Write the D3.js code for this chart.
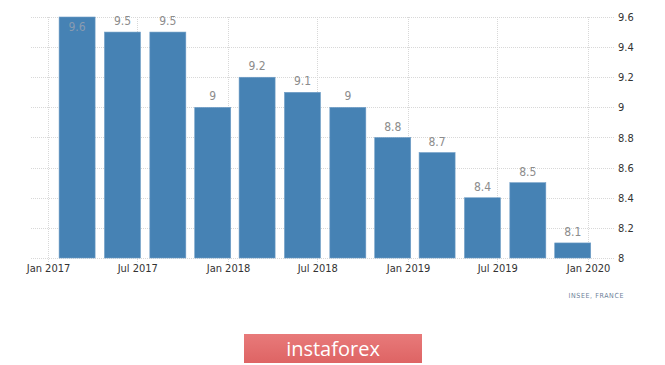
<!DOCTYPE html>
<html><head><meta charset="utf-8">
<script src="https://cdn.jsdelivr.net/npm/d3@7"></script>
<style>body{margin:0;background:#fff}svg{display:block}</style>
</head><body>
<svg id="c" width="665" height="365"></svg>
<script>
const categories = ["2017-03-01","2017-06-01","2017-09-01","2017-12-01","2018-03-01","2018-06-01","2018-09-01","2018-12-01","2019-03-01","2019-06-01","2019-09-01","2019-12-01"];
const values = [9.6, 9.5, 9.5, 9.0, 9.2, 9.1, 9.0, 8.8, 8.7, 8.4, 8.5, 8.1];
const xTickLabels = ["Jan 2017","Jul 2017","Jan 2018","Jul 2018","Jan 2019","Jul 2019","Jan 2020"];
const xTickDates = ["2017-01-01","2017-07-01","2018-01-01","2018-07-01","2019-01-01","2019-07-01","2020-01-01"];
const yTicks = [8, 8.2, 8.4, 8.6, 8.8, 9, 9.2, 9.4, 9.6];
const source = "INSEE, FRANCE";
const brand = "instaforex";

(function () {
const svg = d3.select("#c");
const parse = d3.utcParse("%Y-%m-%d");
const pL = 31, pR = 615, pT = 17, pB = 258;
const x = d3.scaleUtc().domain([parse("2017-01-01"), parse("2020-01-01")]).range([48, 588]);
const y = d3.scaleLinear().domain([8, 9.6]).range([pB, pT]);
const font = "Tahoma, 'DejaVu Sans Condensed', 'Liberation Sans', sans-serif";

// horizontal grid
svg.append("g").selectAll("line").data(yTicks).join("line")
  .attr("x1", pL).attr("x2", pR)
  .attr("y1", d => Math.round(y(d)) + 0.5).attr("y2", d => Math.round(y(d)) + 0.5)
  .attr("stroke", "#d8d8d8").attr("stroke-width", 1).attr("stroke-dasharray", "1,1");
// vertical grid
svg.append("g").selectAll("line").data(xTickDates).join("line")
  .attr("x1", d => Math.round(x(parse(d))) + 0.5).attr("x2", d => Math.round(x(parse(d))) + 0.5)
  .attr("y1", pT).attr("y2", pB + 4)
  .attr("stroke", "#d8d8d8").attr("stroke-width", 1).attr("stroke-dasharray", "1,1");

// bars
const bw = 36;
svg.append("g").selectAll("rect").data(values).join("rect")
  .attr("x", (d, i) => x(parse(categories[i])) - bw / 2)
  .attr("y", d => y(d))
  .attr("width", bw)
  .attr("height", d => y(8) - y(d))
  .attr("fill", "#4682b4")
  .attr("stroke", "#6f9dc6").attr("stroke-width", 0.6);

// bar labels
svg.append("g").selectAll("text").data(values).join("text")
  .attr("x", (d, i) => x(parse(categories[i])))
  .attr("y", d => (y(d) - 11 < pT ? y(d) + 14 : y(d) - 7))
  .attr("text-anchor", "middle")
  .attr("font-family", font).attr("font-size", 12)
  .attr("fill", (d) => (y(d) - 11 < pT ? "#8a9bb0" : "#8c8c8c"))
  .text(d => d3.format("~g")(d));

// x axis
const xAxis = d3.axisBottom(x)
  .tickValues(xTickDates.map(parse))
  .tickFormat((d, i) => xTickLabels[i])
  .tickSize(0).tickPadding(6);
const gx = svg.append("g").attr("transform", `translate(0,${pB})`).call(xAxis);
gx.select(".domain").remove();
gx.selectAll("text").attr("font-family", font).attr("font-size", 11).attr("fill", "#333");

// y axis on right
const yAxis = d3.axisRight(y).tickValues(yTicks).tickFormat(d3.format("~g")).tickSize(0).tickPadding(3);
const gy = svg.append("g").attr("transform", `translate(${pR},0)`).call(yAxis);
gy.select(".domain").remove();
gy.selectAll("text").attr("font-family", font).attr("font-size", 11).attr("fill", "#333");

// source
svg.append("text").attr("x", 624).attr("y", 298).attr("text-anchor", "end")
  .attr("font-family", font).attr("font-size", 7).attr("letter-spacing", 0.6)
  .attr("fill", "#6d7f99").text(source);

// brand button
const grad = svg.append("defs").append("linearGradient").attr("id", "bg").attr("x1", 0).attr("y1", 0).attr("x2", 0).attr("y2", 1);
grad.append("stop").attr("offset", "0%").attr("stop-color", "#e87a7a");
grad.append("stop").attr("offset", "100%").attr("stop-color", "#de6464");
svg.append("rect").attr("x", 244).attr("y", 334).attr("width", 178).attr("height", 29).attr("fill", "url(#bg)");
svg.append("text").attr("x", 333).attr("y", 356).attr("text-anchor", "middle")
  .attr("font-family", "'Open Sans', 'DejaVu Sans', sans-serif").attr("font-size", 20)
  .attr("fill", "#fff").text(brand);
})();
</script>
</body></html>
